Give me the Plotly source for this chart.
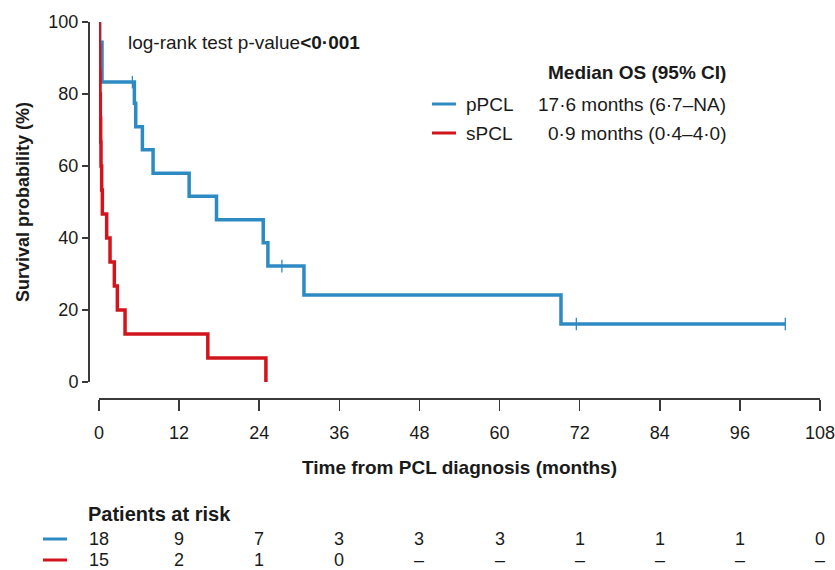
import plotly.graph_objects as go

# ---------------- data ----------------
# pPCL Kaplan-Meier step function (months, survival %)
ppcl_time = [0, 0.1, 0.45, 5.3, 5.5, 6.5, 8.1, 13.5, 17.6, 24.6, 25.3, 30.7, 69.2, 102.8]
ppcl_surv = [100, 94.4, 83.3, 77.4, 70.9, 64.5, 58.0, 51.6, 45.1, 38.7, 32.2, 24.2, 16.1, 16.1]
ppcl_cens_time = [5.0, 5.4, 27.4, 71.5, 102.8]
ppcl_cens_surv = [83.3, 77.4, 32.2, 16.1, 16.1]

# sPCL Kaplan-Meier step function
spcl_time = [0, 0.05, 0.1, 0.15, 0.2, 0.25, 0.3, 0.4, 0.5, 1.15, 1.65, 2.3, 2.75, 3.9, 16.3, 25.0]
spcl_surv = [100, 93.3, 86.7, 80.0, 73.3, 66.7, 60.0, 53.3, 46.7, 40.0, 33.3, 26.7, 20.0, 13.3, 6.7, 0]

x_ticks = [0, 12, 24, 36, 48, 60, 72, 84, 96, 108]
y_ticks = [0, 20, 40, 60, 80, 100]
risk_ppcl = ["18", "9", "7", "3", "3", "3", "1", "1", "1", "0"]
risk_spcl = ["15", "2", "1", "0", "–", "–", "–", "–", "–", "–"]

groups = ["pPCL", "sPCL"]
medians = ["17·6 months (6·7–NA)", "0·9 months (0·4–4·0)"]

BLUE = "#2E8AC3"
RED = "#D2141C"
AX = "#3a3a3a"
FONT = "Liberation Sans, Arial, sans-serif"

# page geometry helpers (pixel -> paper)
L, R, T, B = 88, 15, 22, 172
W, H = 835, 570
PW, PH = W - L - R, H - T - B


def px(x):
    return (x - L) / PW


def py(y):
    return (H - B - y) / PH


fig = go.Figure()
fig.add_trace(go.Scatter(x=ppcl_time, y=ppcl_surv, mode="lines", line=dict(color=BLUE, width=3.5, shape="hv"),
                         cliponaxis=False, showlegend=False, hoverinfo="skip"))
fig.add_trace(go.Scatter(x=spcl_time, y=spcl_surv, mode="lines", line=dict(color=RED, width=3.5, shape="hv"),
                         cliponaxis=False, showlegend=False, hoverinfo="skip"))
fig.add_trace(go.Scatter(x=ppcl_cens_time, y=ppcl_cens_surv, mode="markers",
                         marker=dict(symbol="line-ns", size=9, line=dict(color=BLUE, width=1.3)),
                         cliponaxis=False, showlegend=False, hoverinfo="skip"))

x0_frac = (99 - L) / PW
y0_frac = (398 - 382) / PH

fig.update_layout(
    width=W, height=H,
    margin=dict(l=L, r=R, t=T, b=B, autoexpand=False),
    paper_bgcolor="white", plot_bgcolor="white",
    font=dict(family=FONT, color="#1a1a1a"),
    xaxis=dict(domain=[x0_frac, 1], anchor="free", position=0, range=[0, 108], automargin=False,
               tickvals=x_ticks, ticktext=[str(v) for v in x_ticks], ticklabeloverflow="allow",
               ticklabelstandoff=7,
               showgrid=False, zeroline=False, showline=True, linecolor=AX, linewidth=1.5,
               ticks="outside", ticklen=11, tickwidth=1.5, tickcolor=AX,
               tickfont=dict(size=18, color="#1a1a1a"),
               title=dict(text="<b>Time from PCL diagnosis (months)</b>", font=dict(size=19), standoff=18)),
    yaxis=dict(domain=[y0_frac, 1], anchor="free", position=0, range=[0, 100], automargin=False,
               tickvals=y_ticks, showgrid=False, zeroline=False, showline=True, linecolor=AX, linewidth=1.5,
               ticks="outside", ticklen=6, tickwidth=1.5, tickcolor=AX, ticklabeloverflow="allow",
               tickfont=dict(size=18, color="#1a1a1a"),
               title=dict(text="<b>Survival probability (%)</b>", font=dict(size=18), standoff=12)),
)

ann = []
ann.append(dict(xref="paper", yref="paper", x=px(126), y=py(42), xanchor="left", yanchor="middle",
                text="log-rank test p-value<b>&lt;0·001</b>", showarrow=False, font=dict(size=19)))
ann.append(dict(xref="paper", yref="paper", x=px(728), y=py(73), xanchor="right", yanchor="middle",
                text="<b>Median OS (95% CI)</b>", showarrow=False, font=dict(size=19)))
shapes = []
for i, (g, m, c) in enumerate(zip(groups, medians, [BLUE, RED])):
    yy = 104 + 29 * i
    shapes.append(dict(type="line", xref="paper", yref="paper", x0=px(432), x1=px(456), y0=py(yy), y1=py(yy),
                       line=dict(color=c, width=3)))
    ann.append(dict(xref="paper", yref="paper", x=px(464), y=py(yy), xanchor="left", yanchor="middle",
                    text=g, showarrow=False, font=dict(size=19)))
    ann.append(dict(xref="paper", yref="paper", x=px(728), y=py(yy), xanchor="right", yanchor="middle",
                    text=m, showarrow=False, font=dict(size=19)))

# Patients at risk table
ann.append(dict(xref="paper", yref="paper", x=px(86), y=py(514), xanchor="left", yanchor="middle",
                text="<b>Patients at risk</b>", showarrow=False, font=dict(size=20)))
for i, (row, c) in enumerate(zip([risk_ppcl, risk_spcl], [BLUE, RED])):
    yy = 539 + 21 * i
    shapes.append(dict(type="line", xref="paper", yref="paper", x0=px(43), x1=px(67), y0=py(yy), y1=py(yy),
                       line=dict(color=c, width=3)))
    for xv, txt in zip(x_ticks, row):
        ann.append(dict(xref="x", yref="paper", x=xv, y=py(yy), xanchor="center", yanchor="middle",
                        text=txt, showarrow=False, font=dict(size=18)))

fig.update_layout(annotations=ann, shapes=shapes)
fig.write_html("out.html", config={"displayModeBar": False, "staticPlot": True},
               post_script="document.body.style.margin='0';document.body.style.overflow='hidden';")
